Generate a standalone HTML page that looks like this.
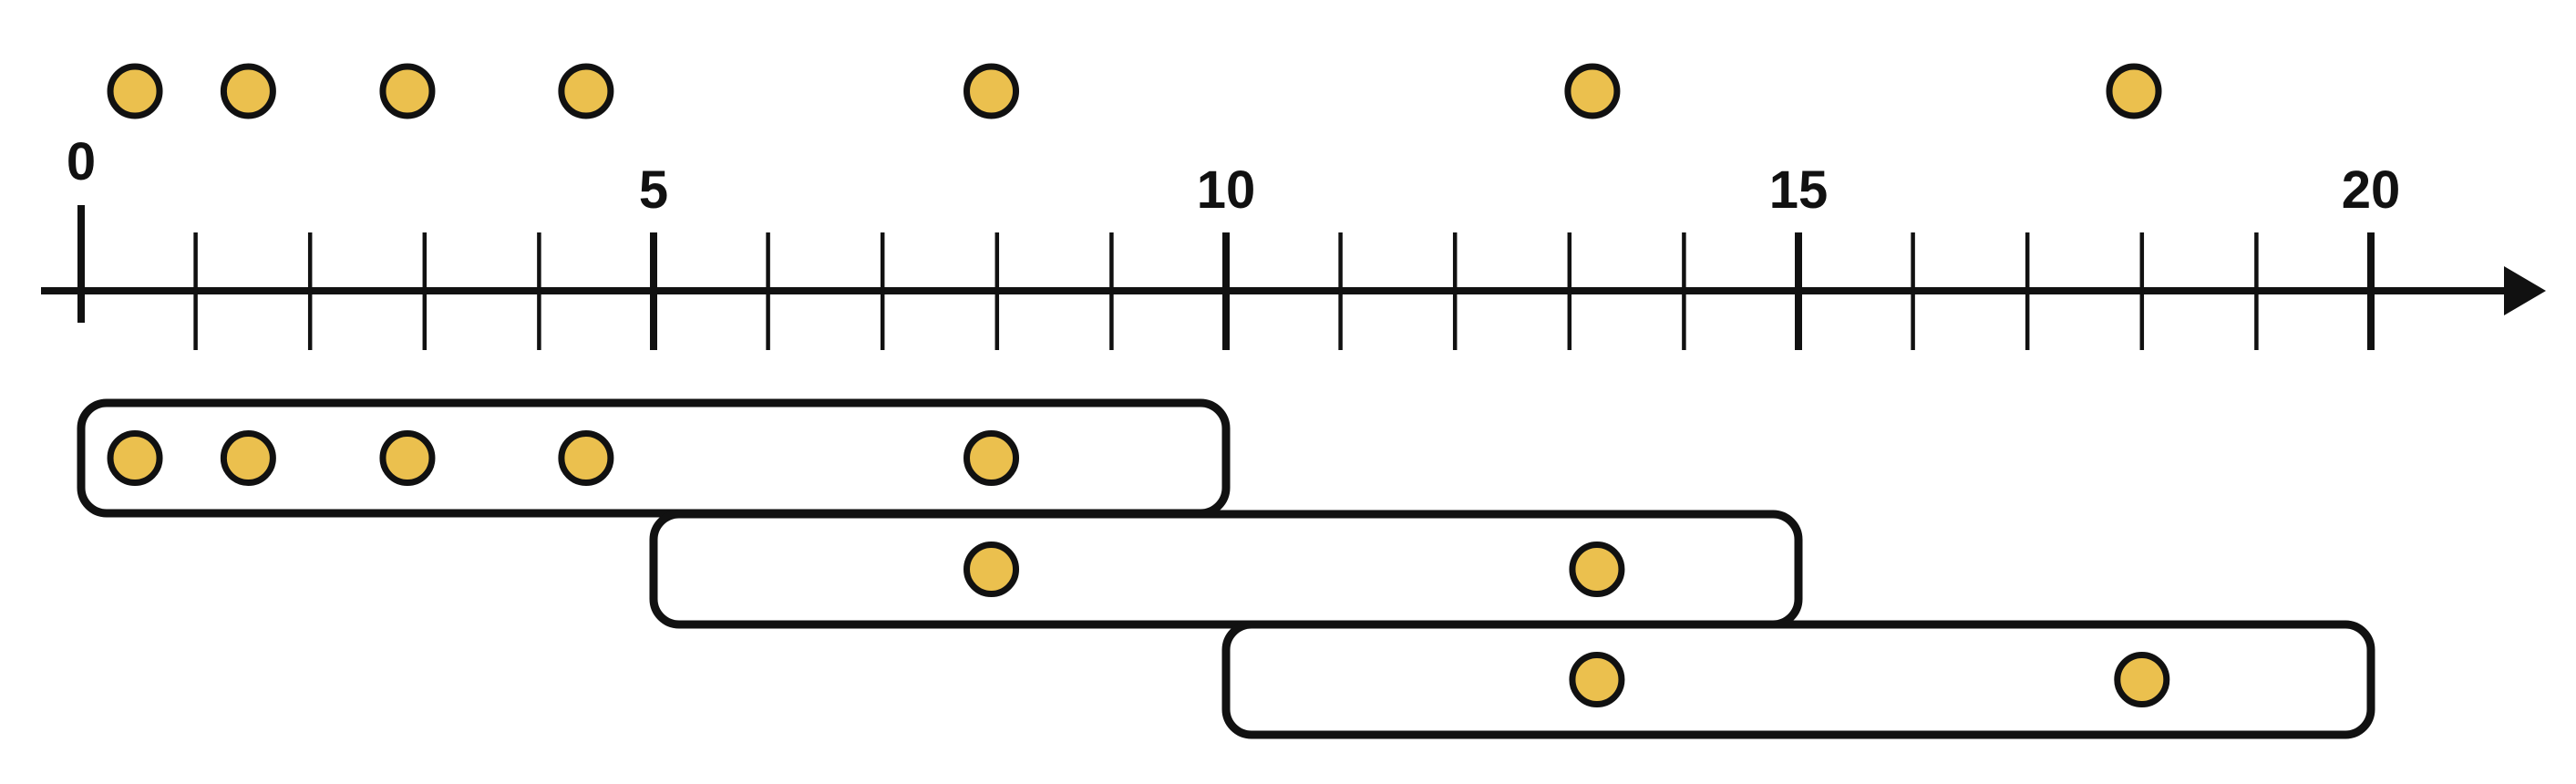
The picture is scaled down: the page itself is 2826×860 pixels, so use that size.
<!DOCTYPE html>
<html><head><meta charset="utf-8"><style>
html,body{margin:0;padding:0;background:#fff;width:2826px;height:860px;overflow:hidden}
svg{display:block}
text{font-family:"Liberation Sans",sans-serif;font-weight:bold;font-size:58px;fill:#111}
</style></head><body>
<svg id="chart" width="2826" height="860" viewBox="0 0 2826 860"></svg>
<script>
const tickValues=[0,1,2,3,4,5,6,7,8,9,10,11,12,13,14,15,16,17,18,19,20];
const tickLabels=["0","5","10","15","20"];
const labelValues=[0,5,10,15,20];
const topPoints=[0.47,1.46,2.85,4.41,7.95,13.2,17.93];
const windowStarts=[0,5,10];
const windowEnds=[10,15,20];
const window1Points=[0.47,1.46,2.85,4.41,7.95];
const window2Points=[7.95,13.24];
const window3Points=[13.24,18.0];
const windowPoints=[window1Points,window2Points,window3Points];

const NS="http://www.w3.org/2000/svg";
const svg=document.getElementById('chart');
const x=v=>89+v*125.6;
const axisY=319;
function mk(tag,attrs,parent){const e=document.createElementNS(NS,tag);for(const k in attrs)e.setAttribute(k,attrs[k]);(parent||svg).appendChild(e);return e;}

const axis=mk('line',{x1:45,y1:axisY,x2:2755,y2:axisY,stroke:'#111','stroke-width':8});


const arrow=mk('polygon',{points:'2747,292 2793,319 2747,346',fill:'#111'});



tickValues.forEach(v=>{
  const major=v%5===0;
  const y1=v===0?225:255, y2=v===0?354:384;
  const t=mk('line',{x1:x(v),y1:y1,x2:x(v),y2:y2,stroke:'#111','stroke-width':major?8:4.5});
  
  
});
labelValues.forEach((v,i)=>{
  const t=mk('text',{x:x(v),y:v===0?197:228,'text-anchor':'middle'});
  t.textContent=tickLabels[i];
  
  
});

function dot(v,cy,name){
  const c=mk('circle',{cx:x(v),cy:cy,r:27,fill:'#EBC04E',stroke:'#111','stroke-width':7});
  
  
}
topPoints.forEach(v=>dot(v,100,'data-point'));

const rowY=[442,564,685];
const rowH=121;
windowStarts.forEach((s,i)=>{
  const r=mk('rect',{x:x(s),y:rowY[i],width:x(windowEnds[i])-x(s),height:rowH,rx:28,ry:28,fill:'none',stroke:'#111','stroke-width':9});
  
  
  windowPoints[i].forEach(v=>dot(v,rowY[i]+rowH/2,'window-point'));
});
</script>
</body></html>
